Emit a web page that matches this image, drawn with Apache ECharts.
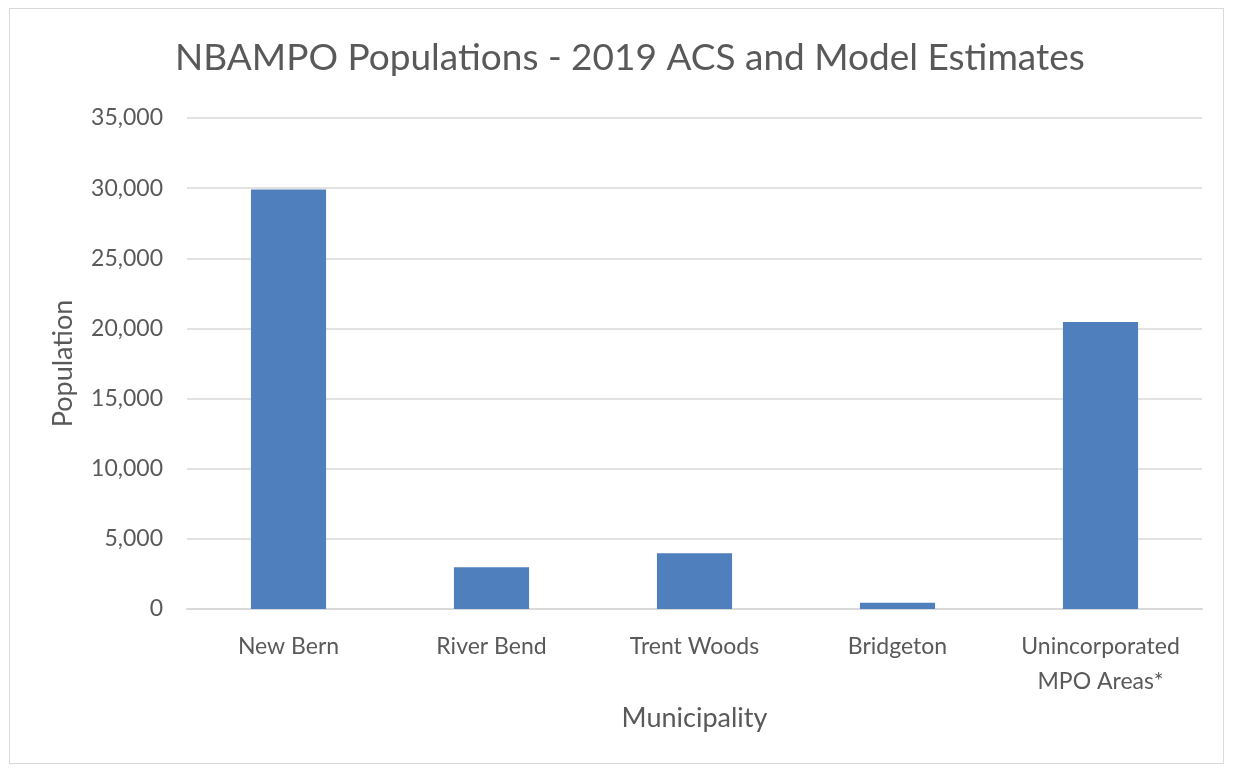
<!DOCTYPE html>
<html><head><meta charset="utf-8">
<script src="https://cdn.jsdelivr.net/npm/echarts@6/dist/echarts.min.js"></script>
<style>html,body{margin:0;padding:0;background:#fff}#wrap{position:absolute;left:9px;top:8px;width:1215px;height:756px;border:1px solid #d9d9d9;box-sizing:border-box}#c{width:1235px;height:770px;position:absolute;left:0;top:0}</style>
</head><body><div id="wrap"></div><div id="c"></div>
<script>
const categories = ['New Bern', 'River Bend', 'Trent Woods', 'Bridgeton', 'Unincorporated\nMPO Areas*'];
const population = [29900, 2970, 3970, 450, 20450];
const yTicks = [0, 5000, 10000, 15000, 20000, 25000, 30000, 35000];

const chart = echarts.init(document.getElementById('c'));
const font = "Lato, 'Open Sans', sans-serif";
chart.setOption({
  animation: false,
  title: {
    text: 'NBAMPO Populations - 2019 ACS and Model Estimates',
    left: 170, top: 35,
    textStyle: { fontFamily: font, fontSize: 37, fontWeight: 'normal', color: '#595959' }
  },
  grid: { left: 187, right: 33, top: 118, bottom: 161, containLabel: false },
  xAxis: {
    type: 'category', data: categories,
    name: 'Municipality', nameLocation: 'middle', nameGap: 96,
    nameTextStyle: { fontFamily: font, fontSize: 27, color: '#595959' },
    axisLine: { lineStyle: { color: '#d9d9d9', width: 2 } },
    axisTick: { show: false },
    axisLabel: { fontFamily: font, fontSize: 23, color: '#595959', margin: 20, lineHeight: 35, interval: 0 }
  },
  yAxis: {
    type: 'value', min: yTicks[0], max: yTicks[yTicks.length - 1], interval: 5000,
    name: 'Population', nameLocation: 'middle', nameGap: 110,
    nameTextStyle: { fontFamily: font, fontSize: 27, color: '#595959' },
    axisLine: { show: false }, axisTick: { show: false },
    splitLine: { lineStyle: { color: '#d9d9d9', width: 1.5 } },
    axisLabel: { fontFamily: font, fontSize: 23, color: '#595959', margin: 24,
      formatter: v => v.toLocaleString('en-US') }
  },
  series: [{
    type: 'bar', data: population, barWidth: '37%',
    itemStyle: { color: '#4f7fbc' }
  }]
});
</script>
</body></html>
